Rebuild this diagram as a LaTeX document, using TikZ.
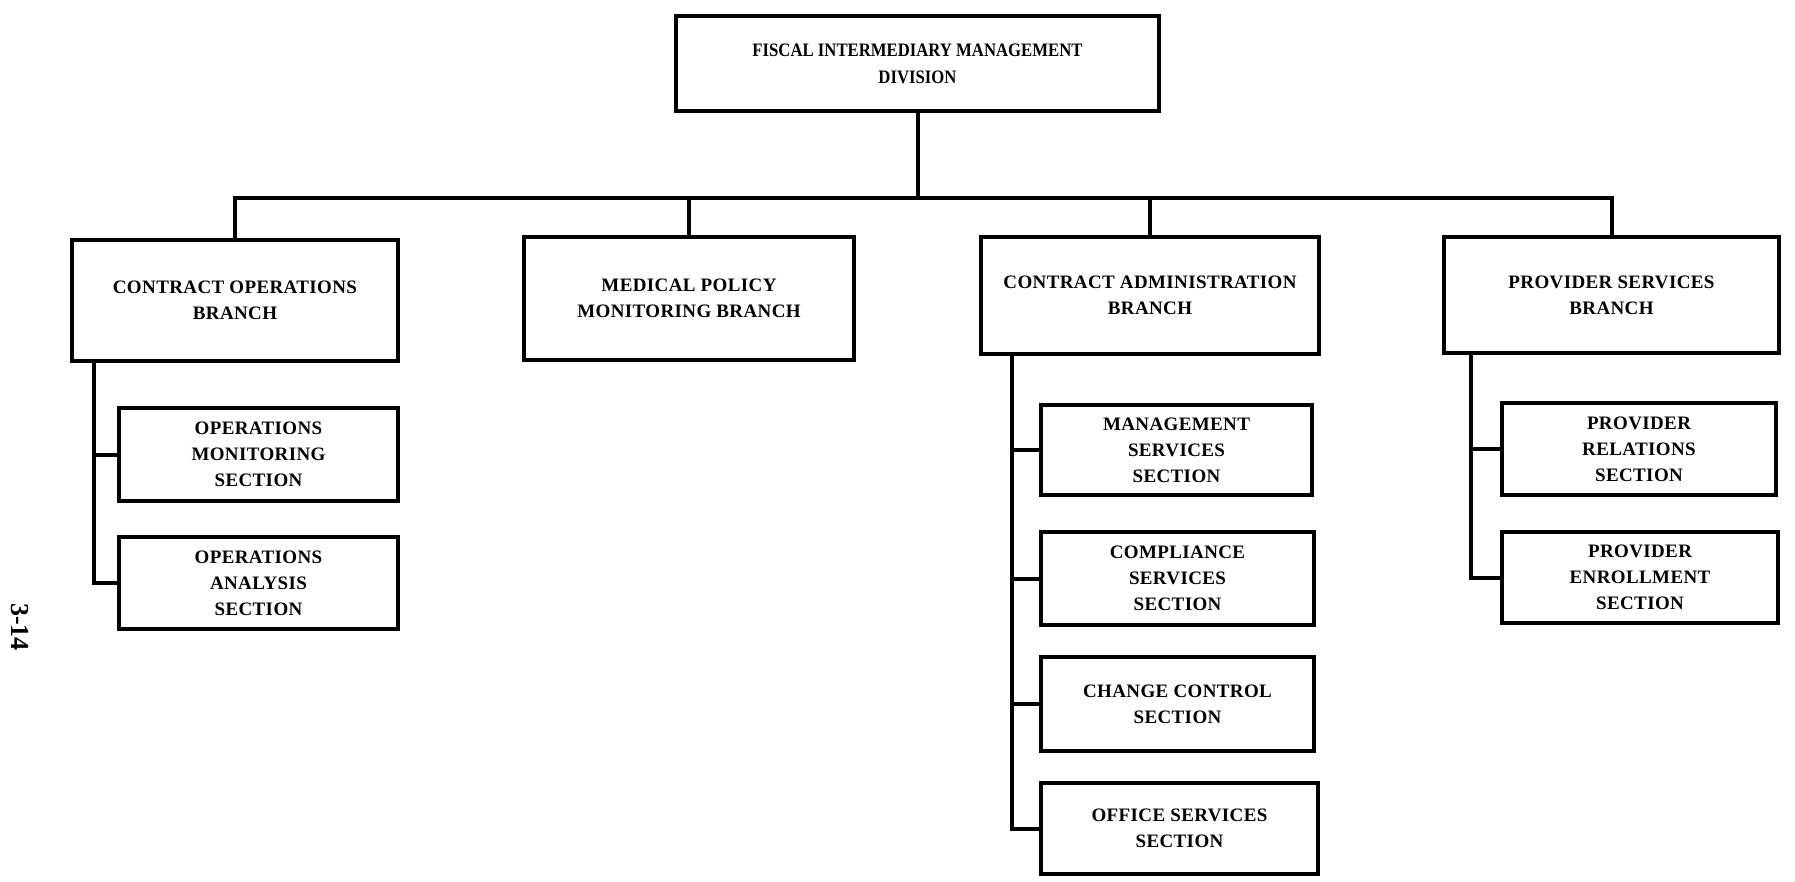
\documentclass[tikz,border=0pt]{standalone}
\usepackage{fontspec}
\setmainfont{Liberation Serif}
\newfontfamily\orgfont[LetterSpace=2]{Liberation Serif}
\newfontfamily\headfont[FakeStretch=0.88]{Liberation Serif}
\begin{document}
\begin{tikzpicture}[x=1pt,y=-1pt,
  orgbox/.style={draw=black, line width=4pt, fill=white, rectangle, inner sep=0pt,
    align=center, font=\orgfont\bfseries\fontsize{19}{26}\selectfont},
  headbox/.style={orgbox, font=\headfont\bfseries\fontsize{19}{27}\selectfont},
  link/.style={draw=black, line width=4pt, line cap=rect}]
\useasboundingbox[fill=white] (0,0) rectangle (1795,881);

% division
\node[headbox, minimum width=483, minimum height=95] (top) at (917.5,63.5)
  {FISCAL INTERMEDIARY MANAGEMENT\\DIVISION};

% branches
\node[orgbox, minimum width=326, minimum height=121] (cob) at (235,300.5)
  {CONTRACT OPERATIONS\\BRANCH};
\node[orgbox, minimum width=330, minimum height=123] (mpb) at (689,298.5)
  {MEDICAL POLICY\\MONITORING BRANCH};
\node[orgbox, minimum width=338, minimum height=117] (cab) at (1150,295.5)
  {CONTRACT ADMINISTRATION\\BRANCH};
\node[orgbox, minimum width=335, minimum height=116] (psb) at (1611.5,295)
  {PROVIDER SERVICES\\BRANCH};

% sections
\node[orgbox, minimum width=279, minimum height=93] (oms) at (258.5,454.5)
  {OPERATIONS\\MONITORING\\SECTION};
\node[orgbox, minimum width=279, minimum height=92] (oas) at (258.5,583)
  {OPERATIONS\\ANALYSIS\\SECTION};
\node[orgbox, minimum width=271, minimum height=90] (mss) at (1176.5,450)
  {MANAGEMENT\\SERVICES\\SECTION};
\node[orgbox, minimum width=273, minimum height=93] (css) at (1177.5,578.5)
  {COMPLIANCE\\SERVICES\\SECTION};
\node[orgbox, minimum width=273, minimum height=94] (ccs) at (1177.5,704)
  {CHANGE CONTROL\\SECTION};
\node[orgbox, minimum width=277, minimum height=91] (oss) at (1179.5,828.5)
  {OFFICE SERVICES\\SECTION};
\node[orgbox, minimum width=274, minimum height=92] (prs) at (1639,449)
  {PROVIDER\\RELATIONS\\SECTION};
\node[orgbox, minimum width=276, minimum height=91] (pes) at (1640,577.5)
  {PROVIDER\\ENROLLMENT\\SECTION};

% connector rails
\coordinate (bar) at (0,198);
\coordinate (s1) at (94,0);
\coordinate (s2) at (1012,0);
\coordinate (s3) at (1471,0);

% division to branches
\draw[link] (top.south) -- (top.south |- bar);
\draw[link] (cob.north) -- (cob.north |- bar) -- (psb.north |- bar) -- (psb.north);
\draw[link] (mpb.north) -- (mpb.north |- bar);
\draw[link] (cab.north) -- (cab.north |- bar);

% branch to sections
\draw[link] (cob.south -| s1) |- (oas.west);
\draw[link] (oms.west -| s1) -- (oms.west);

\draw[link] (cab.south -| s2) |- (oss.west);
\draw[link] (mss.west -| s2) -- (mss.west);
\draw[link] (css.west -| s2) -- (css.west);
\draw[link] (ccs.west -| s2) -- (ccs.west);

\draw[link] (psb.south -| s3) |- (pes.west);
\draw[link] (prs.west -| s3) -- (prs.west);

% page number
\node[font=\bfseries\fontsize{26}{26}\selectfont, rotate=-90] (pg) at (20,627) {3-14};
\end{tikzpicture}
\end{document}
